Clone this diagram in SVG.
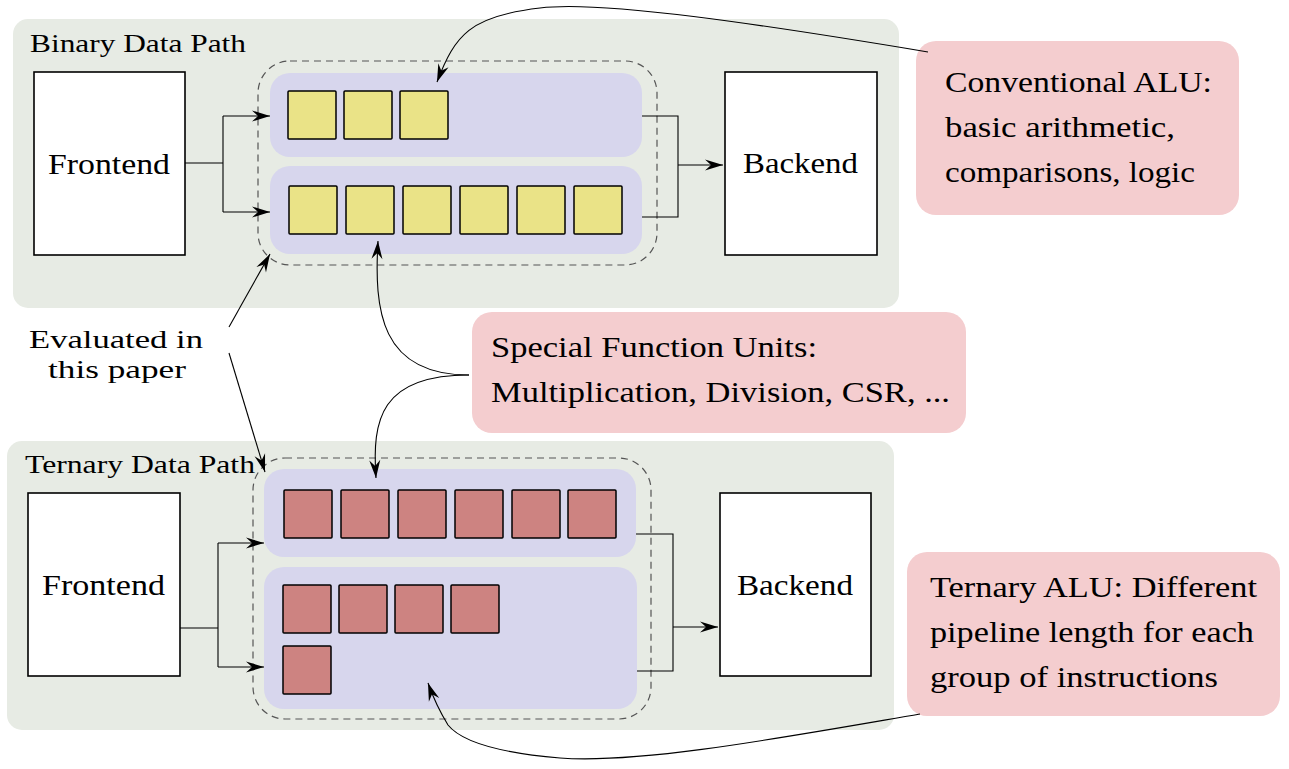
<svg xmlns="http://www.w3.org/2000/svg" width="1289" height="769" viewBox="0 0 1289 769">
<defs>
<style>
.bg{fill:#E7EBE4;}
.lane{fill:#D7D6ED;}
.dash{fill:none;stroke:#555;stroke-width:1.2;stroke-dasharray:7 5;}
.box{fill:#fff;stroke:#000;stroke-width:1.6;}
.y{fill:#EAE387;stroke:#000;stroke-width:1.5;}
.r{fill:#CD8381;stroke:#000;stroke-width:1.5;}
.call{fill:#F4CDCF;}
.t{font-family:'Liberation Serif','Times New Roman',serif;font-size:30px;fill:#000;}
.h{font-family:'Liberation Serif','Times New Roman',serif;font-size:26px;fill:#000;}
.e{font-family:'Liberation Serif','Times New Roman',serif;font-size:26px;fill:#000;}
.c{fill:none;stroke:#000;stroke-width:1.1;}
</style>
<marker id="arr" viewBox="-20 -7 21 14" refX="0" refY="0" markerWidth="21" markerHeight="14" orient="auto" markerUnits="userSpaceOnUse">
<path d="M0,0 L-18,-5.5 L-12,0 L-18,5.5 Z" fill="#000"/>
</marker>
</defs>
<rect width="1289" height="769" fill="#fff"/>

<g id="binary-path">
<rect class="bg" x="13" y="19" width="886" height="289" rx="15"/>
<text class="h" x="30" y="52" textLength="216" lengthAdjust="spacingAndGlyphs">Binary Data Path</text>
</g>
<g id="ternary-path">
<rect class="bg" x="7" y="441" width="887" height="289" rx="15"/>
<text class="h" x="25" y="473" textLength="230" lengthAdjust="spacingAndGlyphs">Ternary Data Path</text>
</g>

<g id="binary-frontend">
<rect class="box" x="34" y="72" width="151" height="183"/>
<text class="t" x="48" y="174" textLength="122" lengthAdjust="spacingAndGlyphs">Frontend</text>
</g>
<g id="binary-backend">
<rect class="box" x="725" y="72" width="152" height="183"/>
<text class="t" x="743" y="173" textLength="115" lengthAdjust="spacingAndGlyphs">Backend</text>
</g>
<g id="binary-alu">
<rect class="dash" x="258" y="61" width="399" height="204" rx="32"/>
<rect class="lane" x="270" y="73" width="372" height="84" rx="20"/>
<rect class="lane" x="270" y="166" width="372" height="88" rx="20"/>
<rect class="y" x="288" y="91" width="48" height="48" rx="1"/>
<rect class="y" x="344" y="91" width="48" height="48" rx="1"/>
<rect class="y" x="400" y="91" width="48" height="48" rx="1"/>
<rect class="y" x="289" y="186" width="48" height="48" rx="1"/>
<rect class="y" x="346" y="186" width="48" height="48" rx="1"/>
<rect class="y" x="403" y="186" width="48" height="48" rx="1"/>
<rect class="y" x="460" y="186" width="48" height="48" rx="1"/>
<rect class="y" x="517" y="186" width="48" height="48" rx="1"/>
<rect class="y" x="574" y="186" width="48" height="48" rx="1"/>
</g>

<g id="ternary-frontend">
<rect class="box" x="28" y="493" width="152" height="183"/>
<text class="t" x="42" y="595" textLength="123" lengthAdjust="spacingAndGlyphs">Frontend</text>
</g>
<g id="ternary-backend">
<rect class="box" x="720" y="493" width="151" height="183"/>
<text class="t" x="737" y="595" textLength="116" lengthAdjust="spacingAndGlyphs">Backend</text>
</g>
<g id="ternary-alu">
<rect class="dash" x="253" y="458" width="398" height="261" rx="32"/>
<rect class="lane" x="264" y="469" width="372" height="88" rx="20"/>
<rect class="lane" x="264" y="567" width="373" height="142" rx="20"/>
<rect class="r" x="284" y="490" width="48" height="48" rx="1"/>
<rect class="r" x="341" y="490" width="48" height="48" rx="1"/>
<rect class="r" x="398" y="490" width="48" height="48" rx="1"/>
<rect class="r" x="455" y="490" width="48" height="48" rx="1"/>
<rect class="r" x="512" y="490" width="48" height="48" rx="1"/>
<rect class="r" x="568" y="490" width="48" height="48" rx="1"/>
<rect class="r" x="283" y="585" width="48" height="48" rx="1"/>
<rect class="r" x="339" y="585" width="48" height="48" rx="1"/>
<rect class="r" x="395" y="585" width="48" height="48" rx="1"/>
<rect class="r" x="451" y="585" width="48" height="48" rx="1"/>
<rect class="r" x="283" y="646" width="48" height="48" rx="1"/>
</g>

<g id="evaluated-label">
<text class="e" x="29" y="348" textLength="174" lengthAdjust="spacingAndGlyphs">Evaluated in</text>
<text class="e" x="48" y="378" textLength="138" lengthAdjust="spacingAndGlyphs">this paper</text>
</g>

<g id="callout-conventional">
<rect class="call" x="916" y="41" width="323" height="174" rx="20"/>
<text class="t" x="945" y="92" textLength="267" lengthAdjust="spacingAndGlyphs">Conventional ALU:</text>
<text class="t" x="945" y="137" textLength="230" lengthAdjust="spacingAndGlyphs">basic arithmetic,</text>
<text class="t" x="945" y="182" textLength="250" lengthAdjust="spacingAndGlyphs">comparisons, logic</text>
</g>
<g id="callout-special">
<rect class="call" x="472" y="312" width="494" height="121" rx="20"/>
<text class="t" x="491" y="357" textLength="326" lengthAdjust="spacingAndGlyphs">Special Function Units:</text>
<text class="t" x="491" y="402" textLength="459" lengthAdjust="spacingAndGlyphs">Multiplication, Division, CSR, ...</text>
</g>
<g id="callout-ternary">
<rect class="call" x="907" y="552" width="373" height="164" rx="20"/>
<text class="t" x="930" y="597" textLength="327" lengthAdjust="spacingAndGlyphs">Ternary ALU: Different</text>
<text class="t" x="930" y="642" textLength="324" lengthAdjust="spacingAndGlyphs">pipeline length for each</text>
<text class="t" x="930" y="687" textLength="288" lengthAdjust="spacingAndGlyphs">group of instructions</text>
</g>

<g id="connectors">
<path class="c" d="M185,163 H223 M223,116 V212"/>
<path class="c" d="M223,116 H270" marker-end="url(#arr)"/>
<path class="c" d="M223,212 H270" marker-end="url(#arr)"/>
<path class="c" d="M642,116 H678 V217 H642"/>
<path class="c" d="M678,165 H723" marker-end="url(#arr)"/>

<path class="c" d="M180,628 H218 M218,543 V667"/>
<path class="c" d="M218,543 H264" marker-end="url(#arr)"/>
<path class="c" d="M218,667 H264" marker-end="url(#arr)"/>
<path class="c" d="M636,534 H673 V671 H637"/>
<path class="c" d="M673,627 H718" marker-end="url(#arr)"/>

<path class="c" d="M229,327 L270,254" marker-end="url(#arr)"/>
<path class="c" d="M229,353 L265,472" marker-end="url(#arr)"/>

<path class="c" d="M928,52 C760,24 600,0 540,8 C470,16 455,35 437,82" marker-end="url(#arr)"/>
<path class="c" d="M469,375 C380,375 374,310 378,241" marker-end="url(#arr)"/>
<path class="c" d="M469,375 C380,375 372,420 376,478" marker-end="url(#arr)"/>
<path class="c" d="M920,714 C780,738 640,764 560,758 C490,752 460,740 448,725 C440,712 433,697 428,683" marker-end="url(#arr)"/>
</g>
</svg>
